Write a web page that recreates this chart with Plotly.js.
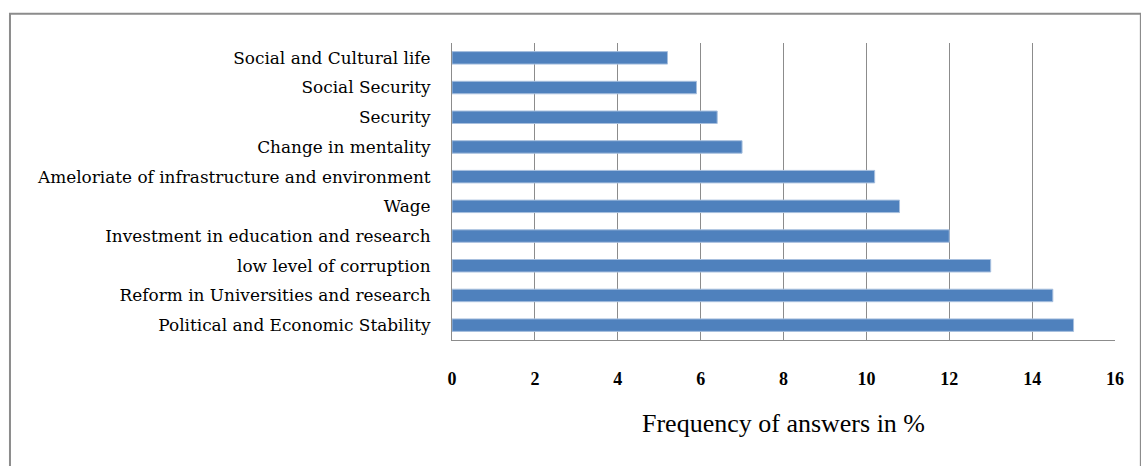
<!DOCTYPE html>
<html><head><meta charset="utf-8">
<script src="https://cdn.plot.ly/plotly-3.0.1.min.js"></script>
<style>html,body{margin:0;padding:0;background:#fff}#chart{width:1141px;height:466px}</style>
</head><body><div id="chart"></div>
<script>
const categories = [
  "Political and Economic Stability",
  "Reform in Universities and research",
  "low level of corruption",
  "Investment in education and research",
  "Wage",
  "Ameloriate of infrastructure and environment",
  "Change in mentality",
  "Security",
  "Social Security",
  "Social and Cultural life"
];
const values = [15.0, 14.5, 13.0, 12.0, 10.8, 10.2, 7.0, 6.4, 5.9, 5.2];
const xTicks = [0, 2, 4, 6, 8, 10, 12, 14, 16];

const trace = {
  type: 'bar', orientation: 'h', y: categories, x: values,
  width: 0.42,
  marker: {color: '#4F81BD', line: {color: '#A7BFDE', width: 1}},
  hoverinfo: 'x+y'
};
const layout = {
  width: 1141, height: 466,
  margin: {l: 452, r: 26, t: 43, b: 126},
  paper_bgcolor: '#fff', plot_bgcolor: '#fff',
  showlegend: false,
  xaxis: {
    range: [0, 16], tickvals: xTicks, ticktext: xTicks.map(String),
    showgrid: true, gridcolor: '#8c8c8c', gridwidth: 1,
    zeroline: false, showline: true, linecolor: '#8c8c8c', linewidth: 1,
    ticks: '', ticklabelstandoff: 22,
    tickfont: {family: 'Liberation Serif', size: 18, color: '#000', weight: 'bold'},
    title: {text: 'Frequency of answers in %', standoff: 26,
      font: {family: 'Liberation Serif', size: 26, color: '#000'}}
  },
  yaxis: {
    type: 'category', categoryorder: 'array', categoryarray: categories,
    range: [-0.5, 9.5],
    showgrid: false, zeroline: false, showline: true, linecolor: '#8c8c8c', linewidth: 1,
    ticks: '', ticklabelstandoff: 17,
    tickfont: {family: 'DejaVu Serif', size: 16.9, color: '#000'}
  },
  shapes: [{
    type: 'rect', xref: 'paper', yref: 'paper',
    x0: -0.6667, x1: 1.039, y0: -0.6, y1: 1.0984,
    line: {color: '#8c8c8c', width: 2}, fillcolor: 'rgba(0,0,0,0)', layer: 'below'
  }]
};
Plotly.newPlot('chart', [trace], layout, {displayModeBar: false, staticPlot: true});
</script></body></html>
